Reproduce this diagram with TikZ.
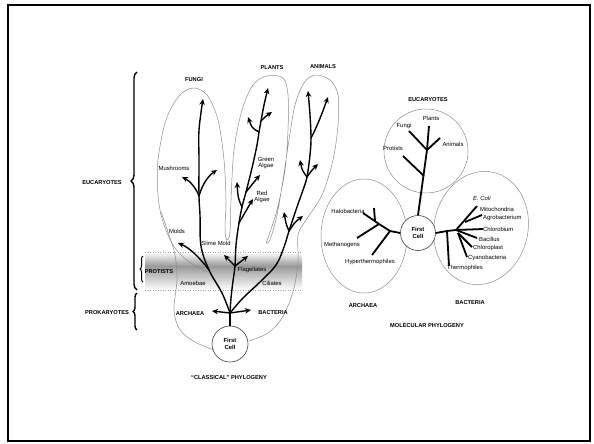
\documentclass[tikz,border=0pt]{standalone}
\usepackage{fontspec}
\setmainfont{Liberation Sans}
\usetikzlibrary{arrows.meta,decorations.pathreplacing,calc}
\begin{document}
\begin{tikzpicture}[x=1pt,y=-1pt,
 lab/.style={font=\fontsize{5.9}{6.3}\selectfont, inner sep=0pt, align=center},
 blab/.style={font=\fontsize{5.7}{6.3}\selectfont\bfseries, inner sep=0pt, align=center},
 br/.style={line width=1.4pt, line cap=round, line join=round},
 ar/.style={br, -{Stealth[length=6pt,width=5.5pt]}},
 mt/.style={line width=1.8pt, line cap=butt},
 env/.style={draw=black!45, line width=0.5pt},
 cellnode/.style={circle, draw=black!75, line width=0.6pt, minimum size=36pt, inner sep=0pt, font=\fontsize{5.9}{6.5}\selectfont\bfseries, align=center},
 bracestyle/.style={decorate, decoration={brace, amplitude=6pt}, line width=1.4pt}
]
\useasboundingbox (0,0) rectangle (594,444);
\fill[white] (0,0) rectangle (594,444);
\draw[line width=2pt] (8,5) rectangle (590,441);

% ---------- protists band ----------
\shade[top color=white, bottom color=black!40] (145,252) rectangle (302,266);
\shade[top color=black!40, bottom color=white] (145,266) rectangle (302,290);
\draw[black!35, dotted, line width=0.5pt] (145,252) -- (302,252);
\draw[black!35, dotted, line width=0.5pt] (145,290) -- (302,290);

% ---------- envelopes (classical) ----------
\draw[env] plot[smooth, tension=0.55] coordinates {(208,272) (192,264) (175,248) (163,222) (158,195) (158,160) (166,120) (179,96) (193,88) (207,95) (218,120) (224,160) (226,200) (225,230) (227,240) (230,232) (231,200) (234,150) (242,110) (253,85) (267,76) (283,78) (288,95) (288,130) (285,170) (277,210) (268,238) (266,243) (270,240) (277,215) (283,180) (289,140) (295,105) (304,83) (315,75) (330,80) (338,95) (338,125) (333,160) (322,195) (306,220) (298,235) (298,262) (293,292) (282,318) (268,333) (249,341)};
\draw[env] plot[smooth, tension=0.55] coordinates {(161,212) (168,232) (175,255) (177,280) (174,310) (180,330) (195,342) (214,350)};

% ---------- braces ----------
\draw[bracestyle] (137,290) -- (137,72);
\draw[decorate, decoration={brace, amplitude=3pt}, line width=1pt] (143,282) -- (143,256);
\draw[decorate, decoration={brace, amplitude=4pt}, line width=1.4pt] (137,330) -- (137,293);

% ---------- classical tree ----------
\node[cellnode] (fc1) at (230,344) {First\\Cell};
\coordinate (root) at (230,313);
\draw[br] (fc1.north) -- (root);
\coordinate (archtip) at (212,311);
\coordinate (bacttip) at (251,310);
\draw[ar] (root) -- (archtip);
\draw[ar] (root) -- (bacttip);

% fungi
\coordinate (f1) at (222,293);
\coordinate (f2) at (209,270);
\coordinate (f3) at (201,246);
\coordinate (f4) at (200,215);
\coordinate (ffork) at (199,196);
\coordinate (f6) at (199,160);
\coordinate (f7) at (199,130);
\coordinate (ftip) at (203,99);
\coordinate (fl) at (182,177);
\coordinate (fr) at (217,170);
\coordinate (molds) at (178,243);
\draw[ar] plot[smooth, tension=0.6] coordinates {(root) (f1) (f2) (f3) (f4) (ffork) (f6) (f7) (ftip)};
\draw[ar] (ffork) .. controls (196,188) and (190,181) .. (fl);
\draw[ar] (ffork) .. controls (202,185) and (208,176) .. (fr);
\draw[ar] (f2) .. controls (200,258) and (190,248) .. (molds);

% plants
\coordinate (p1) at (231,298);
\coordinate (p2) at (233,281);
\coordinate (pflag) at (235,266);
\coordinate (p4) at (236,245);
\coordinate (p5) at (239,223);
\coordinate (p6) at (242,207);
\coordinate (p7) at (246,192);
\coordinate (p8) at (252,168);
\coordinate (p9) at (257,145);
\coordinate (p10) at (259,132);
\coordinate (p11) at (261,121);
\coordinate (p12) at (264,105);
\coordinate (ptip) at (268,88);
\draw[ar] plot[smooth, tension=0.6] coordinates {(root) (p1) (p2) (pflag) (p4) (p5) (p6) (p7) (p8) (p9) (p10) (p11) (p12) (ptip)};
\coordinate (flagl) at (224,255);
\coordinate (flagr) at (248,256);
\draw[ar] (pflag) -- (flagl);
\draw[ar] (pflag) -- (flagr);
\coordinate (redt) at (253,199);
\coordinate (ult) at (237,182);
\coordinate (grt) at (260,175);
\coordinate (u1t) at (248,117);
\coordinate (u2t) at (272,112);
\draw[ar] (p5) .. controls (245,212) .. (redt);
\draw[ar] (p6) .. controls (238,198) .. (ult);
\draw[ar] (p7) .. controls (252,184) .. (grt);
\draw[ar] (p10) .. controls (252,128) .. (u1t);
\draw[ar] (p11) .. controls (266,116) .. (u2t);

% animals
\coordinate (a1) at (243,298);
\coordinate (a2) at (260,282);
\coordinate (a3) at (276,265);
\coordinate (a4) at (284,247);
\coordinate (afork1) at (289,231);
\coordinate (a6) at (297,207);
\coordinate (a7) at (303,190);
\coordinate (afork2) at (307,177);
\coordinate (a9) at (310,155);
\coordinate (afork3) at (311,138);
\coordinate (a11) at (310,115);
\coordinate (atip) at (308,91);
\draw[ar] plot[smooth, tension=0.6] coordinates {(root) (a1) (a2) (a3) (a4) (afork1) (a6) (a7) (afork2) (a9) (afork3) (a11) (atip)};
\coordinate (an1) at (284,212);
\coordinate (an2) at (303,216);
\coordinate (an3) at (300,160);
\coordinate (an4) at (318,164);
\coordinate (an5) at (328,97);
\draw[ar] (afork1) .. controls (286,224) .. (an1);
\draw[ar] (afork1) .. controls (295,222) .. (an2);
\draw[ar] (afork2) .. controls (302,170) .. (an3);
\draw[ar] (afork2) .. controls (312,170) .. (an4);
\draw[ar] (afork3) .. controls (318,125) and (324,108) .. (an5);

% classical labels
\node[blab] (lfungi) at (194,80) {FUNGI};
\node[blab] (lplants) at (272,68) {PLANTS};
\node[blab] (lanimals) at (323,67) {ANIMALS};
\node[lab] (lmush) at (174,168) {Mushrooms};
\node[lab] (lmolds) at (177,231) {Molds};
\node[lab] (lgreen) at (266,163) {Green\\Algae};
\node[lab] (lred) at (262,197) {Red\\Algae};
\node[lab] (lslime) at (216,243) {Slime Mold};
\node[lab] (lflag) at (252,270) {Flagellates};
\node[lab] (lamoeb) at (193,283) {Amoebae};
\node[lab] (lcil) at (272,283) {Ciliates};
\node[blab] (lprot) at (159,272) {PROTISTS};
\node[blab] (larch1) at (190,314) {ARCHAEA};
\node[blab] (lbact1) at (273,313) {BACTERIA};
\node[blab] (leuc1) at (102,183) {EUCARYOTES};
\node[blab] (lprok) at (107,313) {PROKARYOTES};
\node[blab] (lclass) at (229,378) {“CLASSICAL” PHYLOGENY};

% ---------- molecular phylogeny ----------
\node[circle, env, minimum size=84pt, inner sep=0pt] (eucirc) at (426,151) {};
\draw[env] (364,236) ellipse [x radius=43, y radius=57];
\draw[env, rotate around={-12:(481,228)}] (481,228) ellipse [x radius=47, y radius=57];
\node[cellnode, minimum size=35pt, fill=white] (fc2) at (418,233) {First\\Cell};

% eucaryotes
\coordinate (ejun) at (427,150);
\coordinate (eplant) at (429,126);
\coordinate (efungi) at (409,131);
\coordinate (eanim) at (440,138);
\coordinate (eprb) at (424,176);
\coordinate (eprt) at (403,156);
\draw[mt] (fc2.north) -- (ejun);
\draw[mt] (ejun) -- (eplant);
\draw[mt] (ejun) -- (efungi);
\draw[mt] (ejun) -- (eanim);
\draw[mt] (eprb) -- (eprt);
\node[blab] (leuc2) at (428,100) {EUCARYOTES};
\node[lab] (lpl2) at (431,118) {Plants};
\node[lab] (lfu2) at (404,126) {Fungi};
\node[lab] (lan2) at (453,144) {Animals};
\node[lab] (lpr2) at (393,148) {Protists};

% archaea
\coordinate (ar1) at (390,231);
\coordinate (ar2) at (379,224);
\coordinate (arhyp) at (372,255);
\coordinate (armet) at (357,238);
\coordinate (arhal) at (363,213);
\coordinate (arsb) at (375,221);
\coordinate (arst) at (374,208);
\draw[mt] (fc2.west) -- (ar1) -- (ar2) -- (arhal);
\draw[mt] (ar1) -- (arhyp);
\draw[mt] (ar2) -- (armet);
\draw[mt] (arsb) -- (arst);
\node[lab] (lhalo) at (348,211) {Halobacteria};
\node[lab] (lmeth) at (342,245) {Methanogens};
\node[lab] (lhyp) at (370,262) {Hyperthermophiles};
\node[blab] (larch2) at (363,306) {ARCHAEA};

% bacteria
\coordinate (b1) at (447,231);
\coordinate (b2) at (456,230);
\coordinate (b3) at (458,233);
\coordinate (bther) at (449,266);
\coordinate (bmito) at (477,206);
\coordinate (bagb) at (465,222);
\coordinate (bagro) at (482,215);
\coordinate (bchl) at (483,229);
\coordinate (bbac) at (477,238);
\coordinate (bcp) at (472,247);
\coordinate (bcy) at (467,257);
\draw[mt] (fc2.east) -- (b1) -- (b2);
\draw[mt] (b1) -- (bther);
\draw[mt] (b2) -- (bmito);
\draw[mt] (bagb) -- (bagro);
\draw[mt] (b2) -- (bchl);
\draw[mt] (b2) -- (bbac);
\draw[mt] (b3) -- (bcp);
\draw[mt] (b3) -- (bcy);
\node[lab, anchor=west] (lecoli) at (473,198) {\textit{E. Coli}};
\node[lab, anchor=west] (lmito) at (480,209) {Mitochondria};
\node[lab, anchor=west] (lagro) at (483,218) {Agrobacterium};
\node[lab, anchor=west] (lchl) at (483,229) {Chlorobium};
\node[lab, anchor=west] (lbac) at (479,239) {Bacillus};
\node[lab, anchor=west] (lcp) at (473,248) {Chloroplast};
\node[lab, anchor=west] (lcy) at (468,258) {Cyanobacteria};
\node[lab, anchor=west] (lther) at (447,268) {Thermophiles};
\node[blab] (lbact2) at (470,303) {BACTERIA};
\node[blab] (lmol) at (427,326) {MOLECULAR PHYLOGENY};
\end{tikzpicture}
\end{document}
